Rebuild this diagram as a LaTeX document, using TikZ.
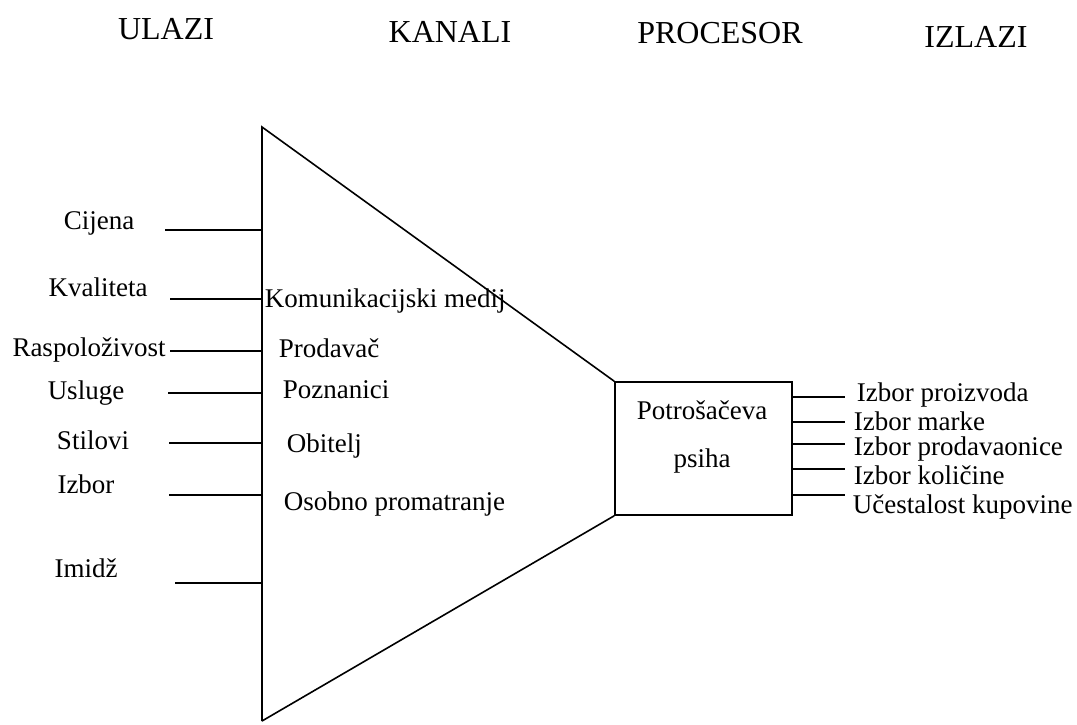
\documentclass[tikz,border=0pt]{standalone}
\usepackage{fontspec}
\setmainfont{Liberation Serif}
\usepackage{tikz}
\usetikzlibrary{shapes, positioning}
\tikzstyle{heading} = [font=\fontsize{16}{19}\selectfont, inner sep=0pt, anchor=base]
\tikzstyle{input} = [font=\fontsize{13.5}{16}\selectfont, inner sep=0pt, anchor=base]
\tikzstyle{channel} = [font=\fontsize{13.5}{16}\selectfont, inner sep=0pt, anchor=base west]
\tikzstyle{output} = [font=\fontsize{13.5}{16}\selectfont, inner sep=0pt, anchor=base west]
\tikzstyle{process} = [rectangle, draw=black, minimum width=88.5pt, minimum height=66.5pt, inner sep=0pt]
\tikzset{
    wire/.style={
        draw=black,
        line width=0.8pt
    }
}

\begin{document}
\begin{tikzpicture}[x=0.5pt, y=-0.5pt, line width=0.8pt]
	\useasboundingbox (0,0) rectangle (1077,724);
	% headings
	\node (ulazi) [heading] at (166,39) {ULAZI};
	\node (kanali) [heading] at (450,42) {KANALI};
	\node (procesor) [heading] at (720,43) {PROCESOR};
	\node (izlazi) [heading] at (976,47) {IZLAZI};
	% funnel and processor
	\coordinate (funnelTop) at (262,127);
	\coordinate (funnelBottom) at (262,721);
	\node (psihaBox) [process] at (703.5,448.5) {};
	\node (potrosaceva) [input] at (702,419) {Potrošačeva};
	\node (psiha) [input] at (702,467) {psiha};
	\draw [wire] (funnelBottom) -- (funnelTop) -- (psihaBox.north west);
	\draw [wire] (funnelBottom) -- (psihaBox.south west);
	% inputs
	\node (cijena) [input] at (99,229) {Cijena};
	\node (kvaliteta) [input] at (98,296) {Kvaliteta};
	\node (raspolozivost) [input] at (89,356) {Raspoloživost};
	\node (usluge) [input] at (86,399) {Usluge};
	\node (stilovi) [input] at (93,449) {Stilovi};
	\node (izbor) [input] at (86,493) {Izbor};
	\node (imidz) [input] at (86,577) {Imidž};
	\coordinate (inCijena) at (165,230);
	\coordinate (inKvaliteta) at (170,299);
	\coordinate (inRaspolozivost) at (170,351);
	\coordinate (inUsluge) at (168,393);
	\coordinate (inStilovi) at (169,443);
	\coordinate (inIzbor) at (169,495);
	\coordinate (inImidz) at (175,583);
	\draw [wire] (inCijena) -- (inCijena -| funnelTop);
	\draw [wire] (inKvaliteta) -- (inKvaliteta -| funnelTop);
	\draw [wire] (inRaspolozivost) -- (inRaspolozivost -| funnelTop);
	\draw [wire] (inUsluge) -- (inUsluge -| funnelTop);
	\draw [wire] (inStilovi) -- (inStilovi -| funnelTop);
	\draw [wire] (inIzbor) -- (inIzbor -| funnelTop);
	\draw [wire] (inImidz) -- (inImidz -| funnelTop);
	% channels
	\node (medij) [channel] at (264,307) {Komunikacijski medij};
	\node (prodavac) [channel] at (278,357) {Prodavač};
	\node (poznanici) [channel] at (282,398) {Poznanici};
	\node (obitelj) [channel] at (286,452) {Obitelj};
	\node (promatranje) [channel] at (283,510) {Osobno promatranje};
	% outputs
	\coordinate (outProizvod) at (845,397);
	\coordinate (outMarka) at (845,422);
	\coordinate (outProdavaonica) at (845,444);
	\coordinate (outKolicina) at (845,469);
	\coordinate (outUcestalost) at (845,495);
	\draw [wire] (psihaBox.east |- outProizvod) -- (outProizvod);
	\draw [wire] (psihaBox.east |- outMarka) -- (outMarka);
	\draw [wire] (psihaBox.east |- outProdavaonica) -- (outProdavaonica);
	\draw [wire] (psihaBox.east |- outKolicina) -- (outKolicina);
	\draw [wire] (psihaBox.east |- outUcestalost) -- (outUcestalost);
	\node (proizvod) [output] at (856,401) {Izbor proizvoda};
	\node (marka) [output] at (853,430) {Izbor marke};
	\node (prodavaonica) [output] at (853,455) {Izbor prodavaonice};
	\node (kolicina) [output] at (853,484) {Izbor količine};
	\node (ucestalost) [output] at (852,513) {Učestalost kupovine};
\end{tikzpicture}
\end{document}
